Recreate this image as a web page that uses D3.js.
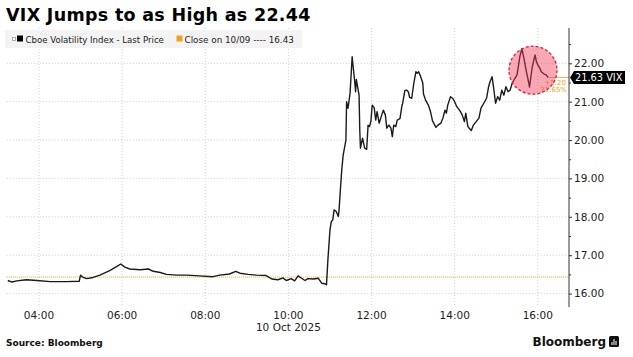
<!DOCTYPE html>
<html>
<head>
<meta charset="utf-8">
<script src="https://cdn.jsdelivr.net/npm/d3@7"></script>
<style>
  body { margin: 0; background: #fff; }
  svg { display: block; }
  text { font-family: "DejaVu Sans", sans-serif; }
</style>
</head>
<body>
<svg id="chart" width="633" height="357"></svg>
<script>
// VIX intraday, 10 Oct 2025 (times are local chart time)
const times = [
  "03:15","03:21","03:28","03:42","03:57","04:16","04:40","04:58","05:00","05:03",
  "05:09","05:18","05:28","05:42","05:52","05:58","06:04","06:11","06:26","06:38",
  "06:45","06:55","07:04","07:19","07:33","07:52","08:11","08:21","08:35","08:44",
  "08:50","09:02","09:14","09:28","09:36","09:45","09:52","09:57","10:04","10:09",
  "10:14","10:19","10:24","10:28","10:36","10:43","10:48","10:54","10:55","10:57",
  "11:00","11:02","11:04","11:06","11:09","11:12","11:13","11:15","11:17","11:19",
  "11:23","11:24","11:26","11:29","11:32","11:35","11:37","11:38","11:42","11:43",
  "11:44","11:47","11:50","11:53","11:55","11:57","11:59","12:01","12:04","12:06",
  "12:08","12:11","12:14","12:17","12:20","12:22","12:25","12:28","12:30","12:32",
  "12:35","12:37","12:41","12:44","12:45","12:48","12:51","12:53","12:55","12:58",
  "13:01","13:04","13:06","13:08","13:11","13:14","13:15","13:18","13:22","13:25",
  "13:28","13:33","13:36","13:40","13:43","13:46","13:48","13:50","13:54","13:57",
  "14:00","14:03","14:07","14:11","14:14","14:16","14:19","14:21","14:24","14:27",
  "14:31","14:35","14:38","14:42","14:46","14:49","14:51","14:54","14:56","14:59",
  "15:02","15:05","15:08","15:11","15:14","15:17","15:20","15:23","15:27","15:30",
  "15:34","15:37","15:40","15:43","15:46","15:48","15:50","15:52","15:56","15:58",
  "16:00","16:03","16:05","16:09","16:12","16:15"
];
const values = [
  16.34,16.30,16.33,16.36,16.34,16.31,16.31,16.32,16.48,16.43,
  16.39,16.42,16.48,16.60,16.70,16.77,16.69,16.64,16.62,16.64,
  16.58,16.55,16.50,16.48,16.48,16.46,16.44,16.48,16.51,16.58,
  16.53,16.50,16.48,16.47,16.38,16.36,16.41,16.34,16.39,16.33,
  16.46,16.40,16.34,16.39,16.38,16.40,16.27,16.25,16.23,16.88,
  17.66,17.88,17.92,18.18,18.14,18.01,18.14,18.70,19.22,19.60,
  20.00,21.00,20.83,21.22,22.17,21.65,21.26,21.58,21.17,20.26,
  19.79,20.05,19.79,19.76,20.39,20.35,20.48,20.91,20.83,20.52,
  20.74,20.44,20.61,20.78,20.65,20.31,20.39,20.31,20.09,20.39,
  20.35,20.52,20.56,20.91,20.96,21.29,21.30,21.26,21.11,21.09,
  21.48,21.78,21.74,21.78,21.65,21.48,21.20,21.04,20.91,20.75,
  20.50,20.33,20.39,20.44,20.57,20.78,20.70,20.91,21.13,21.09,
  21.00,20.87,20.78,20.65,20.48,20.70,20.35,20.31,20.25,20.39,
  20.48,20.57,20.83,20.96,21.09,21.39,21.52,21.65,21.39,20.96,
  21.13,21.04,21.30,21.17,21.39,21.26,21.30,21.48,21.61,21.70,
  22.17,22.38,22.13,21.83,21.57,21.38,21.65,21.91,22.22,22.04,
  21.96,21.87,21.78,21.72,21.70,21.63
];
const prevClose = 16.43;
const lastPrice = 21.63;
const xTickLabels = ["04:00","06:00","08:00","10:00","12:00","14:00","16:00"];
const yTickValues = [16, 17, 18, 19, 20, 21, 22];
const yMinorValues = [16.5, 17.5, 18.5, 19.5, 20.5, 21.5, 22.5];
const xDomain = ["03:15", "16:45"];
const yDomain = [15.65, 22.92];
const highlight = { time: "15:53", value: 21.82 };

const parse = d3.timeParse("%Y-%m-%d %H:%M");
const toDate = t => parse("2025-10-10 " + t);
const data = times.map((t, i) => ({ date: toDate(t), value: values[i] }));

const svg = d3.select("#chart");
const plotLeft = 7.8, plotRight = 569, plotTop = 28, plotBottom = 307;

const x = d3.scaleTime().domain(xDomain.map(toDate)).range([plotLeft, plotRight]);
const y = d3.scaleLinear().domain(yDomain).range([plotBottom, plotTop]);

svg.append("rect").attr("width", 633).attr("height", 357).attr("fill", "#fff");

// gridlines
svg.append("g").selectAll("line").data(yTickValues).join("line")
  .attr("x1", plotLeft - 1).attr("x2", plotRight)
  .attr("y1", d => y(d)).attr("y2", d => y(d))
  .attr("stroke", "#cfcfcf").attr("stroke-dasharray", "1,2");
svg.append("g").selectAll("line").data(xTickLabels).join("line")
  .attr("x1", d => x(toDate(d))).attr("x2", d => x(toDate(d)))
  .attr("y1", plotTop).attr("y2", plotBottom)
  .attr("stroke", "#cfcfcf").attr("stroke-dasharray", "1,2");

// legend band
const lg = svg.append("g");
lg.append("rect").attr("x", 5).attr("y", 30).attr("width", 297).attr("height", 18).attr("fill", "#f3f3f3");
lg.append("rect").attr("x", 12.5).attr("y", 37.5).attr("width", 3).attr("height", 3)
  .attr("fill", "#fff").attr("stroke", "#999").attr("stroke-width", 0.8);
lg.append("rect").attr("x", 17).attr("y", 35.5).attr("width", 6).attr("height", 6).attr("fill", "#000");
lg.append("text").attr("x", 25.5).attr("y", 42.5).attr("font-size", 8.6).attr("fill", "#222")
  .text("Cboe Volatility Index - Last Price");
lg.append("rect").attr("x", 176.5).attr("y", 35.5).attr("width", 6).attr("height", 6).attr("fill", "#f0a020");
lg.append("text").attr("x", 184.5).attr("y", 42.5).attr("font-size", 8.8).attr("fill", "#222")
  .text("Close on 10/09 ---- " + prevClose.toFixed(2));

// previous close reference
svg.append("line")
  .attr("x1", plotLeft - 1).attr("x2", plotRight)
  .attr("y1", y(prevClose)).attr("y2", y(prevClose))
  .attr("stroke", "#f0a020").attr("stroke-width", 1).attr("stroke-dasharray", "1,1");

// price line
const line = d3.line().x(d => x(d.date)).y(d => y(d.value));
svg.append("path").datum(data)
  .attr("d", line)
  .attr("fill", "none").attr("stroke", "#1a1a1a").attr("stroke-width", 1.4)
  .attr("stroke-linejoin", "round");

// last price leader + change labels
const last = data[data.length - 1];
svg.append("line")
  .attr("x1", x(last.date)).attr("x2", plotRight)
  .attr("y1", y(lastPrice)).attr("y2", y(lastPrice))
  .attr("stroke", "#f0a020").attr("stroke-width", 0.8);
svg.append("text").attr("x", 566).attr("y", y(lastPrice) + 7).attr("text-anchor", "end")
  .attr("font-size", 7).attr("fill", "#f0a020").text("+" + (lastPrice - prevClose).toFixed(2));
svg.append("text").attr("x", 567).attr("y", y(lastPrice) + 14.5).attr("text-anchor", "end")
  .attr("font-size", 7).attr("fill", "#f0a020")
  .text(((lastPrice - prevClose) / prevClose * 100).toFixed(2) + "%");

// highlight circle
svg.append("circle")
  .attr("cx", x(toDate(highlight.time))).attr("cy", y(highlight.value)).attr("r", 24)
  .attr("fill", "#f03c5a").attr("fill-opacity", 0.45)
  .attr("stroke", "#e3203a").attr("stroke-width", 1.3).attr("stroke-dasharray", "3,2");

// right axis
const yAxis = svg.append("g").attr("transform", `translate(${plotRight},0)`)
  .call(d3.axisRight(y).tickValues(yTickValues).tickSize(3).tickPadding(2).tickFormat(d3.format(".2f")));
svg.append("g").attr("transform", `translate(${plotRight},0)`)
  .call(d3.axisRight(y).tickValues(yMinorValues).tickSize(2).tickFormat(""))
  .select(".domain").remove();
yAxis.select(".domain").attr("d", `M0,${plotTop}V${plotBottom}`).attr("stroke", "#333");
yAxis.selectAll(".tick text").attr("font-size", 10.5).attr("fill", "#222")
  .attr("font-family", "DejaVu Sans, sans-serif");
svg.selectAll(".tick line").attr("stroke", "#333");

// last price tag
const ty = y(lastPrice);
svg.append("path")
  .attr("d", `M${plotRight + 1},${ty} L${plotRight + 5},${ty - 6.5} H625 V${ty + 6.5} H${plotRight + 5} Z`)
  .attr("fill", "#000");
svg.append("text").attr("x", 575).attr("y", ty + 3.6).attr("font-size", 9.8).attr("fill", "#fff")
  .text(lastPrice.toFixed(2) + " VIX");

// x labels
svg.append("g").selectAll("text").data(xTickLabels).join("text")
  .attr("x", d => x(toDate(d))).attr("y", 319)
  .attr("text-anchor", "middle").attr("font-size", 10.5).attr("fill", "#222")
  .text(d => d);
svg.append("text").attr("x", x(toDate("10:00"))).attr("y", 331)
  .attr("text-anchor", "middle").attr("font-size", 10.5).attr("fill", "#222")
  .text("10 Oct 2025");

// title and footer
svg.append("text").attr("x", 6).attr("y", 21).attr("font-size", 17.5).attr("font-weight", "bold")
  .attr("letter-spacing", 0.3).attr("fill", "#000").text("VIX Jumps to as High as 22.44");
svg.append("text").attr("x", 6).attr("y", 345.5).attr("font-size", 9).attr("font-weight", "bold")
  .attr("fill", "#111").text("Source: Bloomberg");
svg.append("text").attr("x", 606).attr("y", 346).attr("text-anchor", "end")
  .attr("font-size", 12).attr("font-weight", "bold").attr("fill", "#111").text("Bloomberg");
const logo = svg.append("g").attr("transform", "translate(609,336)");
logo.append("rect").attr("width", 10).attr("height", 11).attr("rx", 1.5).attr("fill", "#111");
logo.selectAll("line").data([3, 5, 7]).join("line")
  .attr("x1", d => d).attr("x2", d => d)
  .attr("y1", (d, i) => [6, 3, 5][i]).attr("y2", 9)
  .attr("stroke", "#fff").attr("stroke-width", 1);
</script>
</body>
</html>
